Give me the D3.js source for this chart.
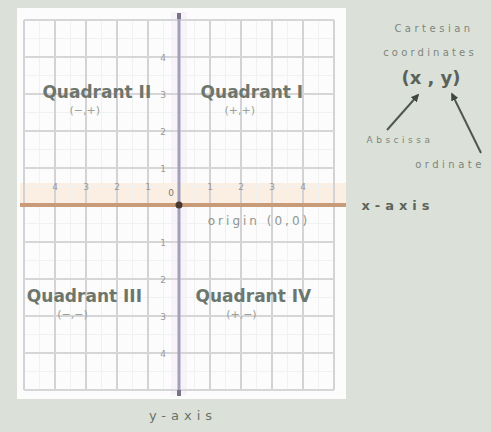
<!DOCTYPE html>
<html lang="en">
<head>
<meta charset="UTF-8">
<title>Cartesian plane</title>
<script src="https://cdn.jsdelivr.net/npm/d3@7"></script>
<style>
  body { margin: 0; background: #dbe1d8; }
  svg { display: block; }
  text { font-family: "DejaVu Sans", sans-serif; fill: #525b52; }
</style>
</head>
<body>
<script>
// chart data
const xTicks = [-4, -3, -2, -1, 1, 2, 3, 4]
const yTicks = [-4, -3, -2, -1, 1, 2, 3, 4]
const gridMajor = [-5, -4, -3, -2, -1, 0, 1, 2, 3, 4, 5]
const quadNames = ['Quadrant I', 'Quadrant II', 'Quadrant III', 'Quadrant IV']
const quadSigns = ['(+,+)', '(−,+)', '(−,−)', '(+,−)']
const quadX = [2.35, -2.65, -3.05, 2.4]
const quadY = [3.05, 3.05, -2.45, -2.45]
const notes = ['Cartesian', 'coordinates', '(x , y)', 'Abscissa', 'ordinate']

const w = 491, h = 432
const svg = d3.select('body').append('svg').attr('width', w).attr('height', h)

const x = d3.scaleLinear().domain([-5, 5]).range([24, 334])
const y = d3.scaleLinear().domain([-5, 5]).range([390, 20])

// paper
svg.append('rect').attr('x', 17).attr('y', 8).attr('width', 329).attr('height', 391)
  .attr('fill', '#fbfcfb')

// soft highlight bands along the axes
svg.append('rect').attr('x', x(0) - 8).attr('y', 12).attr('width', 16).attr('height', 383)
  .attr('fill', '#f7f3f9')
svg.append('rect').attr('x', 20).attr('y', y(0) - 22).attr('width', 326).attr('height', 24)
  .attr('fill', '#fbefe3')

// minor grid
const minor = d3.range(-4.5, 5, 1)
svg.append('g').selectAll('line.mx').data(minor).enter().append('line')
  .attr('x1', d => x(d)).attr('x2', d => x(d)).attr('y1', y(5)).attr('y2', y(-5))
  .attr('stroke', '#f0f1f1').attr('stroke-width', 1)
svg.append('g').selectAll('line.my').data(minor).enter().append('line')
  .attr('y1', d => y(d)).attr('y2', d => y(d)).attr('x1', x(-5)).attr('x2', x(5))
  .attr('stroke', '#f0f1f1').attr('stroke-width', 1)

// major grid
svg.append('g').selectAll('line').data(gridMajor).enter().append('line')
  .attr('x1', d => x(d)).attr('x2', d => x(d)).attr('y1', y(5)).attr('y2', y(-5))
  .attr('stroke', '#d3d3d6').attr('stroke-width', 2)
svg.append('g').selectAll('line').data(gridMajor).enter().append('line')
  .attr('y1', d => y(d)).attr('y2', d => y(d)).attr('x1', x(-5)).attr('x2', x(5))
  .attr('stroke', '#d6d6d8').attr('stroke-width', 2)

// x axis (orange)
svg.append('line').attr('x1', 20).attr('x2', 346).attr('y1', y(0)).attr('y2', y(0))
  .attr('stroke', '#c99b79').attr('stroke-width', 4)
// y axis (purple-grey)
svg.append('line').attr('x1', x(0)).attr('x2', x(0)).attr('y1', 14).attr('y2', 396)
  .attr('stroke', '#a19fbb').attr('stroke-width', 3)
svg.append('rect').attr('x', x(0) - 2).attr('y', 13).attr('width', 4).attr('height', 6).attr('fill', '#777388')
svg.append('rect').attr('x', x(0) - 2).attr('y', 390).attr('width', 4).attr('height', 6).attr('fill', '#777388')
svg.append('circle').attr('cx', x(0)).attr('cy', y(0)).attr('r', 3.5).attr('fill', '#4a3830')

// tick labels
svg.append('g').selectAll('text').data(xTicks).enter().append('text')
  .attr('x', d => x(d)).attr('y', y(0) - 15)
  .attr('text-anchor', 'middle').attr('font-size', 9).style('fill', '#9a9a9a')
  .text(d => Math.abs(d))
svg.append('g').selectAll('text').data(yTicks).enter().append('text')
  .attr('x', x(0) - 16).attr('y', d => y(d) + 4)
  .attr('text-anchor', 'middle').attr('font-size', 9).style('fill', '#9a9a9a')
  .text(d => Math.abs(d))
svg.append('text').attr('x', x(0) - 8).attr('y', y(0) - 9)
  .attr('text-anchor', 'middle').attr('font-size', 9).style('fill', '#777')
  .text('0')

// quadrant labels
const quads = svg.append('g').selectAll('g').data(quadNames).enter().append('g')
quads.append('text')
  .attr('x', (d, i) => x(quadX[i])).attr('y', (d, i) => y(quadY[i]) + 6)
  .attr('text-anchor', 'middle').attr('font-size', 17).attr('font-weight', 'bold')
  .style('fill', '#6d766d')
  .text(d => d)
quads.append('text')
  .attr('x', (d, i) => x(quadX[i]) - 12).attr('y', (d, i) => y(quadY[i]) + 22)
  .attr('text-anchor', 'middle').attr('font-size', 11)
  .style('fill', '#9aa09a')
  .text((d, i) => quadSigns[i])

// origin label
svg.append('text').attr('x', 259).attr('y', y(0) + 20)
  .attr('text-anchor', 'middle').attr('font-size', 12).attr('letter-spacing', 3)
  .style('fill', '#8f958f')
  .text('origin (0,0)')

// axis names
svg.append('text').attr('x', 398).attr('y', y(0) + 5)
  .attr('text-anchor', 'middle').attr('font-size', 13).attr('font-weight', 'bold').attr('letter-spacing', 5)
  .style('fill', '#5c645c')
  .text('x-axis')
svg.append('text').attr('x', 183).attr('y', 420)
  .attr('text-anchor', 'middle').attr('font-size', 13).attr('letter-spacing', 5)
  .style('fill', '#6a726a')
  .text('y-axis')

// right-side notes
svg.append('text').attr('x', 434).attr('y', 32).attr('text-anchor', 'middle')
  .attr('font-size', 10).attr('letter-spacing', 3.5).style('fill', '#7d857d').text(notes[0])
svg.append('text').attr('x', 430).attr('y', 56).attr('text-anchor', 'middle')
  .attr('font-size', 10).attr('letter-spacing', 3.2).style('fill', '#7d857d').text(notes[1])
svg.append('text').attr('x', 431).attr('y', 84).attr('text-anchor', 'middle')
  .attr('font-size', 18).attr('font-weight', 'bold').style('fill', '#5a625a').text(notes[2])
svg.append('text').attr('x', 400).attr('y', 143).attr('text-anchor', 'middle')
  .attr('font-size', 9).attr('letter-spacing', 3.5).style('fill', '#7d857d').text(notes[3])
svg.append('text').attr('x', 450).attr('y', 168).attr('text-anchor', 'middle')
  .attr('font-size', 10).attr('letter-spacing', 3.5).style('fill', '#7d857d').text(notes[4])

// arrows
svg.append('defs').append('marker').attr('id', 'ah')
  .attr('viewBox', '0 0 10 10').attr('refX', 8).attr('refY', 5)
  .attr('markerWidth', 4).attr('markerHeight', 4).attr('orient', 'auto')
  .append('path').attr('d', 'M0,0 L10,5 L0,10 z').attr('fill', '#3f473f')
svg.append('line').attr('x1', 387).attr('y1', 130).attr('x2', 418).attr('y2', 95)
  .attr('stroke', '#4f574f').attr('stroke-width', 2).attr('marker-end', 'url(#ah)')
svg.append('line').attr('x1', 481).attr('y1', 153).attr('x2', 452).attr('y2', 94)
  .attr('stroke', '#4f574f').attr('stroke-width', 2).attr('marker-end', 'url(#ah)')
</script>
</body>
</html>
